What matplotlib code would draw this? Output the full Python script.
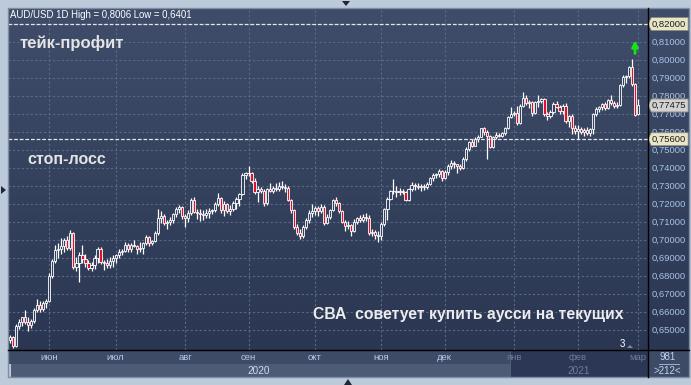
import numpy as np
import pandas as pd
import matplotlib
matplotlib.use("Agg")
import matplotlib.pyplot as plt
from matplotlib.patches import Polygon, Rectangle
from matplotlib.lines import Line2D
from matplotlib.colors import LinearSegmentedColormap
from matplotlib.transforms import blended_transform_factory

plt.rcParams['font.family'] = ['Liberation Sans', 'DejaVu Sans']

W, H = 691, 385

# daily candles AUD/USD, 13.05.2020 - 01.03.2021
dates = pd.bdate_range('2020-05-13', '2021-03-01')

opens = [
    # may
    .6445, .6460, .6410, .6525, .6545, .6575, .6545, .6530, .6550, .6610, .6640, .6615, .6650,
    # jun
    .6660, .6800, .6885, .6945, .6950, .6965, .7000, .6955, .7040, .6850, .6870, .6915, .6895,
    .6870, .6845, .6860, .6900, .6950, .6880, .6870, .6860, .6885,
    # jul
    .6900, .6915, .6935, .6940, .6975, .6950, .6975, .6965, .6950, .6955, .6985, .7015, .6985,
    .6995, .7040, .7120, .7135, .7095, .7100, .7110, .7145, .7175, .7185,
    # aug
    .7135, .7125, .7150, .7225, .7155, .7150, .7145, .7140, .7150, .7160, .7165, .7200, .7235,
    .7165, .7200, .7160, .7175, .7205, .7230, .7255, .7360,
    # sep
    .7370, .7375, .7330, .7265, .7285, .7270, .7205, .7285, .7270, .7290, .7285, .7300, .7295,
    .7290, .7225, .7165, .7070, .7040, .7025, .7075, .7110, .7150,
    # oct
    .7160, .7180, .7160, .7185, .7095, .7130, .7165, .7225, .7205, .7160, .7100, .7080, .7085,
    .7050, .7100, .7120, .7110, .7130, .7125, .7040, .7045, .7030,
    # nov
    .7025, .7090, .7170, .7230, .7270, .7275, .7265, .7270, .7265, .7220, .7285, .7305, .7300,
    .7295, .7300, .7295, .7310, .7345, .7360, .7365, .7385,
    # dec
    .7345, .7380, .7410, .7430, .7420, .7410, .7400, .7450, .7505, .7545, .7525, .7560, .7575,
    .7620, .7600, .7580, .7515, .7570, .7585, .7580, .7595, .7620, .7685,
    # jan
    .7700, .7705, .7650, .7745, .7790, .7760, .7765, .7705, .7765, .7775, .7785, .7700, .7690,
    .7710, .7755, .7740, .7715, .7745, .7660, .7690, .7620,
    # feb
    .7605, .7615, .7600, .7610, .7595, .7615, .7700, .7730, .7740, .7755, .7735, .7780, .7760,
    .7745, .7750, .7860, .7905, .7910, .7960, .7865,
    # mar
    .7700,
]
highs = [
    .6470, .6465, .6535, .6560, .6575, .6610, .6575, .6560, .6620, .6675, .6660, .6660, .6675,
    .6815, .6895, .6975, .6985, .7010, .7010, .7020, .7055, .7045, .6905, .6935, .6970, .6920,
    .6890, .6880, .6915, .6960, .6960, .6890, .6895, .6905, .6915,
    .6925, .6950, .6950, .6990, .6985, .6985, .7000, .6975, .6990, .6990, .7030, .7020, .7000,
    .7050, .7175, .7160, .7145, .7110, .7130, .7150, .7185, .7195, .7190,
    .7145, .7165, .7235, .7240, .7175, .7170, .7165, .7170, .7180, .7175, .7210, .7260, .7240,
    .7215, .7205, .7195, .7215, .7240, .7260, .7375, .7380,
    .7413, .7380, .7345, .7300, .7295, .7285, .7290, .7315, .7300, .7315, .7320, .7330, .7310,
    .7300, .7230, .7175, .7090, .7060, .7085, .7120, .7165, .7200,
    .7190, .7190, .7200, .7195, .7145, .7175, .7230, .7240, .7210, .7165, .7110, .7105, .7090,
    .7115, .7130, .7140, .7145, .7150, .7140, .7060, .7055, .7050,
    .7100, .7180, .7240, .7280, .7340, .7300, .7290, .7285, .7270, .7290, .7320, .7315, .7315,
    .7310, .7310, .7320, .7350, .7370, .7375, .7395, .7390,
    .7390, .7420, .7445, .7440, .7425, .7425, .7460, .7515, .7550, .7560, .7570, .7585, .7625,
    .7630, .7610, .7585, .7580, .7600, .7595, .7600, .7630, .7690, .7740,
    .7715, .7745, .7755, .7820, .7805, .7780, .7770, .7775, .7805, .7790, .7790, .7710, .7720,
    .7765, .7770, .7750, .7755, .7760, .7695, .7700, .7640,
    .7640, .7630, .7625, .7630, .7625, .7705, .7740, .7745, .7760, .7765, .7785, .7805, .7775,
    .7765, .7865, .7915, .7915, .7965, .8006, .7870,
    .7782,
]
lows = [
    .6430, .6401, .6405, .6505, .6525, .6535, .6495, .6510, .6540, .6600, .6600, .6605, .6620,
    .6655, .6790, .6870, .6900, .6920, .6935, .6945, .6945, .6840, .6830, .6765, .6870, .6850,
    .6835, .6830, .6840, .6870, .6865, .6835, .6845, .6845, .6850,
    .6870, .6900, .6915, .6935, .6935, .6935, .6960, .6920, .6935, .6920, .6975, .6965, .6970,
    .6990, .7030, .7095, .7085, .7060, .7085, .7095, .7130, .7150, .7115,
    .7070, .7100, .7140, .7150, .7115, .7105, .7110, .7120, .7120, .7145, .7155, .7190, .7150,
    .7135, .7150, .7140, .7160, .7175, .7190, .7250, .7340,
    .7355, .7315, .7255, .7210, .7260, .7190, .7195, .7265, .7260, .7275, .7270, .7285, .7265,
    .7215, .7150, .7060, .7030, .7005, .7010, .7060, .7095, .7130,
    .7140, .7135, .7150, .7085, .7090, .7115, .7160, .7190, .7150, .7095, .7050, .7060, .7020,
    .7045, .7090, .7100, .7100, .7105, .7030, .7020, .7005, .6991,
    .7000, .7080, .7110, .7220, .7255, .7240, .7250, .7255, .7215, .7215, .7275, .7280, .7285,
    .7270, .7280, .7285, .7305, .7330, .7345, .7350, .7330,
    .7340, .7360, .7395, .7400, .7370, .7390, .7395, .7440, .7495, .7515, .7520, .7545, .7570,
    .7585, .7452, .7510, .7510, .7560, .7570, .7570, .7585, .7615, .7680,
    .7690, .7640, .7645, .7740, .7750, .7735, .7690, .7700, .7740, .7760, .7690, .7665, .7680,
    .7700, .7735, .7700, .7700, .7650, .7630, .7590, .7590,
    .7563, .7590, .7580, .7585, .7580, .7590, .7690, .7710, .7720, .7725, .7730, .7750, .7735,
    .7735, .7745, .7850, .7870, .7900, .7855, .7690,
    .7695,
]
closes = [
    .6460, .6410, .6525, .6545, .6575, .6545, .6530, .6550, .6610, .6640, .6615, .6650, .6660,
    .6800, .6885, .6945, .6950, .6965, .7000, .6955, .7040, .6850, .6870, .6915, .6895, .6870,
    .6845, .6860, .6900, .6950, .6880, .6870, .6860, .6885, .6900,
    .6915, .6935, .6940, .6975, .6950, .6975, .6965, .6950, .6955, .6985, .7015, .6985, .6995,
    .7040, .7120, .7135, .7095, .7100, .7110, .7145, .7175, .7185, .7135,
    .7125, .7150, .7225, .7155, .7150, .7145, .7140, .7150, .7160, .7165, .7200, .7235, .7165,
    .7200, .7160, .7175, .7205, .7230, .7255, .7360, .7370,
    .7375, .7330, .7265, .7285, .7270, .7205, .7285, .7270, .7290, .7285, .7300, .7295, .7290,
    .7225, .7165, .7070, .7040, .7025, .7075, .7110, .7150, .7160,
    .7180, .7160, .7185, .7095, .7130, .7165, .7225, .7205, .7160, .7100, .7080, .7085, .7050,
    .7100, .7120, .7110, .7130, .7125, .7040, .7045, .7030, .7025,
    .7090, .7170, .7230, .7270, .7275, .7265, .7270, .7265, .7220, .7285, .7305, .7300, .7295,
    .7300, .7295, .7310, .7345, .7360, .7365, .7385, .7345,
    .7380, .7410, .7430, .7420, .7410, .7400, .7450, .7505, .7545, .7525, .7560, .7575, .7620,
    .7600, .7580, .7515, .7570, .7585, .7580, .7595, .7620, .7685, .7700,
    .7705, .7650, .7745, .7790, .7760, .7765, .7705, .7765, .7775, .7785, .7700, .7690, .7710,
    .7755, .7740, .7715, .7745, .7660, .7690, .7620, .7605,
    .7615, .7600, .7610, .7595, .7615, .7700, .7730, .7740, .7755, .7735, .7780, .7760, .7745,
    .7750, .7860, .7905, .7910, .7960, .7865, .7695,
    .77475,
]

months_ru = ['янв', 'фев', 'мар', 'апр', 'май', 'июн', 'июл', 'авг', 'сен', 'окт', 'ноя', 'дек']
price_ticks = np.round(np.arange(0.65, 0.8201, 0.01), 2)
take_profit = 0.82
stop_loss = 0.756
last_price = closes[-1]
bars_total = 981
bars_shown = 212

o = np.array(opens)
h = np.array(highs)
l = np.array(lows)
c = np.array(closes)
x = np.arange(len(dates))


def rect(x0, y0, x1, y1):
    return [x0 / W, 1 - y1 / H, (x1 - x0) / W, (y1 - y0) / H]


def fpt(px, py):
    return (px / W, 1 - py / H)


def fmt(v, n):
    return f"{v:.{n}f}".replace('.', ',')


fig = plt.figure(figsize=(W / 100, H / 100), dpi=100)
fig.patch.set_facecolor('#bdcad9')

bg = LinearSegmentedColormap.from_list('bg', ['#2b3752', '#3f4d6a'])
grad = np.linspace(0, 1, 256).reshape(-1, 1)

ylo, yhi = 0.6389, 0.8289
xlo, xhi = -0.66, 211.3

# main price panel
ax = fig.add_axes(rect(8, 8, 648, 350))
ax.imshow(grad, extent=[0, 1, 0, 1], transform=ax.transAxes, cmap=bg,
          aspect='auto', origin='lower', zorder=0)
ax.set_xlim(xlo, xhi)
ax.set_ylim(ylo, yhi)
ax.set_xticks([])
ax.set_yticks([])
for s in ax.spines.values():
    s.set_visible(False)

month_idx = [i for i in range(1, len(dates)) if dates[i].month != dates[i - 1].month]

ax.hlines(price_ticks, xlo, xhi, colors='#5a6986', linestyles=(0, (2, 2)), lw=0.8, zorder=1)
for i in month_idx:
    ax.axvline(i, color='#5a6986', ls=(0, (2, 2)), lw=0.8, zorder=1)

up = c >= o
fill = np.where(up, '#35425f', '#e3102b')
ax.vlines(x, l, h, color='white', lw=0.9, zorder=3)
ax.bar(x, np.maximum(np.abs(c - o), 0.00025), bottom=np.minimum(o, c), width=0.72,
       color=fill, edgecolor='white', linewidth=0.6, zorder=4)

ax.axhline(take_profit, color='#e6e6e6', lw=0.9, ls=(0, (3, 1.5)), zorder=5)
ax.axhline(stop_loss, color='#e6e6e6', lw=0.9, ls=(0, (3, 1.5)), zorder=5)

top = int(np.argmax(h))
ax.annotate('', xy=(top + 1, h[top] + 0.0104), xytext=(top + 1, h[top] + 0.0030),
            arrowprops=dict(arrowstyle='-|>', color='#19e019', lw=2.0, mutation_scale=9,
                            shrinkA=0, shrinkB=0),
            zorder=6)

fig.text(*fpt(10, 15), f"AUD/USD 1D High = {fmt(h.max(), 4)} Low = {fmt(l.min(), 4)}",
         color='white', fontsize=6.9, va='center')
fig.text(*fpt(20, 43), 'тейк-профит', color='#e4e4e4', fontsize=12, fontweight='bold', va='center')
fig.text(*fpt(27, 159), 'стоп-лосс', color='#e4e4e4', fontsize=11.5, fontweight='bold', va='center')
fig.text(*fpt(313, 315), 'СВА  советует купить аусси на текущих', color='#ececec',
         fontsize=11.3, fontweight='bold', va='center')
fig.text(*fpt(622, 344), '3', color='white', fontsize=7, va='center', ha='center')
fig.add_artist(Polygon([fpt(627, 348), fpt(633, 348), fpt(630, 345)], closed=True,
                       transform=fig.transFigure, facecolor='#7d8aa0', lw=0))

# right price scale
axr = fig.add_axes(rect(648, 8, 689, 350))
axr.imshow(grad, extent=[0, 1, 0, 1], transform=axr.transAxes, cmap=bg,
           aspect='auto', origin='lower', zorder=0)
axr.set_xlim(0, 1)
axr.set_ylim(ylo, yhi)
axr.axis('off')
for v in price_ticks:
    axr.text(0.1, v, fmt(v, 5), color='#a8c2e6', fontsize=6.8, va='center', zorder=2)

tr = blended_transform_factory(axr.transAxes, axr.transData)
hh = 6.5 / 1800
for v, col in [(take_profit, '#e9e6c8'), (last_price, '#d2d2d2'), (stop_loss, '#e9e6c8')]:
    pts = [(0.0, v), (0.08, v + hh), (0.98, v + hh), (0.98, v - hh), (0.08, v - hh)]
    axr.add_patch(Polygon(pts, closed=True, transform=tr, facecolor=col,
                          edgecolor='#8a8a7a', lw=0.6, zorder=5, clip_on=False))
    axr.text(0.1, v, fmt(v, 5), color='#1d1d1d', fontsize=6.8, va='center', zorder=6)

# time scale
axb = fig.add_axes(rect(8, 350, 648, 377))
axb.set_xlim(xlo, xhi)
axb.set_ylim(0, 1)
axb.axis('off')
boundary = dates.get_loc(dates[dates.year == 2021][0]) - 1.5
axb.add_patch(Rectangle((xlo, 0.5), xhi - xlo, 0.5, facecolor='#3d4b67', lw=0))
axb.add_patch(Rectangle((xlo + 1, 0), xhi - xlo, 0.5, facecolor='#4d5b77', lw=0))
axb.add_patch(Rectangle((boundary, 0), xhi - boundary, 1, facecolor='#2b3754',
                        edgecolor='#56647e', lw=0.6))
for i in month_idx:
    col = '#6c7c9c' if dates[i].year == 2021 else '#b4cbea'
    axb.text(i, 0.72, months_ru[dates[i].month - 1], color=col, fontsize=6.8,
             ha='center', va='center')
axb.text((xlo + boundary) / 2, 0.24, '2020', color='#d0dcee', fontsize=7.2, ha='center', va='center')
axb.text((boundary + xhi) / 2, 0.24, '2021', color='#6c7c9c', fontsize=7.2, ha='center', va='center')

axc = fig.add_axes(rect(648, 350, 689, 377))
axc.set_xlim(0, 1)
axc.set_ylim(0, 1)
axc.axis('off')
axc.add_patch(Rectangle((0, 0), 1, 1, facecolor='#3d4b67', lw=0))
axc.text(0.48, 0.74, str(bars_total), color='#c0d2ec', fontsize=7, ha='center', va='center')
axc.plot([0.28, 0.76], [0.5, 0.5], color='#a8c2e6', lw=0.6)
axc.text(0.48, 0.24, f">{bars_shown}<", color='#c0d2ec', fontsize=7, ha='center', va='center')

# frame and separators
fig.add_artist(Line2D([648 / W, 648 / W], [1 - 8 / H, 1 - 377 / H], color='black', lw=1))
fig.add_artist(Line2D([8 / W, 689 / W], [1 - 350 / H, 1 - 350 / H], color='black', lw=1))
fig.add_artist(Rectangle(fpt(8, 377), 681 / W, 369 / H, transform=fig.transFigure,
                         fill=False, edgecolor='#7d8ba3', lw=1))

for pts in [[(342, 1), (350, 1), (346, 6)], [(344, 385), (352, 385), (348, 379)],
            [(1, 186), (1, 194), (6, 190)]]:
    fig.add_artist(Polygon([fpt(*p) for p in pts], closed=True, transform=fig.transFigure,
                           facecolor='#1c2638', lw=0))

fig.savefig('out.png', dpi=100, facecolor=fig.get_facecolor())
